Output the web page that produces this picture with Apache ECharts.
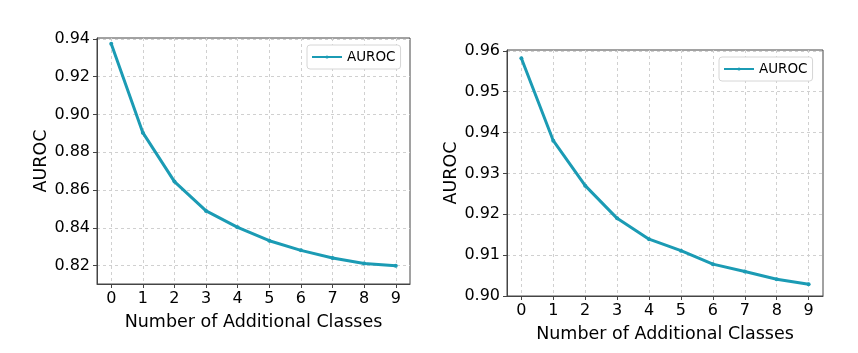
<!DOCTYPE html>
<html>
<head>
<meta charset="utf-8">
<script src="https://cdn.jsdelivr.net/npm/echarts@6/dist/echarts.min.js"></script>
<style>
  html, body { margin: 0; padding: 0; background: #fff; }
  #main { width: 858px; height: 353px; }
</style>
</head>
<body>
<div id="main"></div>
<script>
    // number of additional classes
    const classes = [0, 1, 2, 3, 4, 5, 6, 7, 8, 9];
    // AUROC, left panel and right panel
    const aurocLeft = [0.9374, 0.8904, 0.8645, 0.849, 0.8403, 0.8332, 0.8281, 0.8241, 0.8211, 0.820];
    const aurocRight = [0.9582, 0.938, 0.927, 0.919, 0.9139, 0.9111, 0.9078, 0.906, 0.9041, 0.9029];
    // tick labels
    const yTicksLeft = [0.82, 0.84, 0.86, 0.88, 0.90, 0.92, 0.94];
    const yTicksRight = [0.90, 0.91, 0.92, 0.93, 0.94, 0.95, 0.96];

    const lineColor = '#1b9bb4';
    const frameColor = '#444';
    const textColor = '#000';
    const font = 'DejaVu Sans';

    function pairs(ys) {
        return classes.map((c, i) => [c, ys[i]]);
    }

    function xAxisFor(gridIndex) {
        return {
            type: 'value',
            gridIndex: gridIndex,
            min: -0.45,
            max: 9.45,
            name: 'Number of Additional Classes',
            nameLocation: 'middle',
            nameGap: 29,
            nameTextStyle: {fontFamily: font, fontSize: 17.5, color: textColor},
            axisLine: {show: true, onZero: false, lineStyle: {color: frameColor, width: 1}},
            axisTick: {show: true, length: 4, customValues: classes, lineStyle: {color: frameColor}},
            axisLabel: {customValues: classes, fontFamily: font, fontSize: 16, color: textColor, margin: 7},
            splitLine: {show: true, lineStyle: {color: '#d0d0d0', type: [3, 3], width: 1}}
        };
    }

    function yAxisFor(gridIndex, ticks, min, max, gap) {
        return {
            type: 'value',
            gridIndex: gridIndex,
            min: min,
            max: max,
            name: 'AUROC',
            nameLocation: 'middle',
            nameGap: gap,
            nameTextStyle: {fontFamily: font, fontSize: 17.5, color: textColor},
            axisLine: {show: true, onZero: false, lineStyle: {color: frameColor, width: 1}},
            axisTick: {show: true, length: 4, customValues: ticks, lineStyle: {color: frameColor}},
            axisLabel: {
                customValues: ticks,
                fontFamily: font, fontSize: 16, color: textColor, margin: 7,
                formatter: v => v.toFixed(2)
            },
            splitLine: {show: true, lineStyle: {color: '#d0d0d0', type: [3, 3], width: 1}}
        };
    }

    function seriesFor(idx, ys) {
        return {
            name: 'AUROC',
            type: 'line',
            xAxisIndex: idx,
            yAxisIndex: idx,
            data: pairs(ys),
            symbol: 'circle',
            symbolSize: 4,
            showSymbol: true,
            color: lineColor,
            lineStyle: {color: lineColor, width: 3},
            itemStyle: {color: lineColor},
            emphasis: {disabled: true}
        };
    }

    function legendFor(idx, left, top) {
        return {
            data: ['AUROC'],
            left: left,
            top: top,
            orient: 'vertical',
            itemWidth: 30,
            itemHeight: 4,
            itemGap: 0,
            padding: [5, 5, 5, 4],
            borderColor: '#d6d6d6',
            borderWidth: 1,
            borderRadius: 3,
            backgroundColor: '#fff',
            textStyle: {fontFamily: font, fontSize: 13.5, color: textColor},
            selectedMode: false,
            seriesIndex: idx
        };
    }

    const myChart = echarts.init(document.getElementById('main'));
    myChart.setOption({
        animation: false,
        grid: [
            {left: 97, top: 38, width: 313, height: 246, show: true, borderColor: frameColor, borderWidth: 1, backgroundColor: 'transparent'},
            {left: 507, top: 50, width: 316, height: 246, show: true, borderColor: frameColor, borderWidth: 1, backgroundColor: 'transparent'}
        ],
        legend: [
            legendFor(0, 307, 45),
            legendFor(1, 719, 57)
        ],
        xAxis: [xAxisFor(0), xAxisFor(1)],
        yAxis: [
            yAxisFor(0, yTicksLeft, 0.8103, 0.9405, 47),
            yAxisFor(1, yTicksRight, 0.90, 0.9602, 45)
        ],
        series: [seriesFor(0, aurocLeft), seriesFor(1, aurocRight)]
    });
</script>
</body>
</html>
